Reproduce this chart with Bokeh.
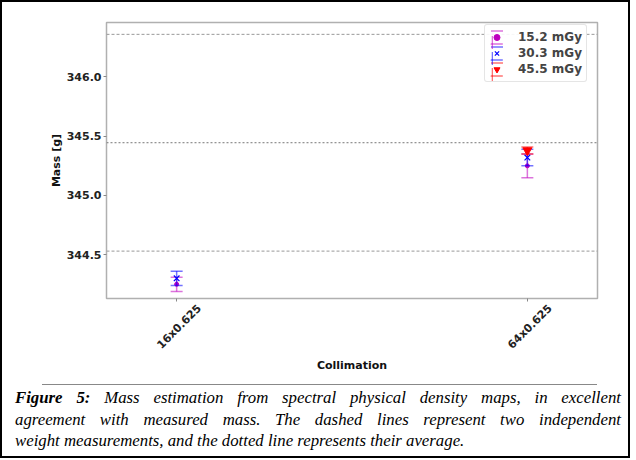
import numpy as np
from bokeh.plotting import figure
from bokeh.models import (Range1d, FixedTicker, Span, Legend, LegendItem, ColumnDataSource, Div,
                          PrintfTickFormatter, LinearAxis)
from bokeh.layouts import column
from bokeh.embed import file_html
from bokeh.resources import INLINE

# ---- data ----
categories = ["16x0.625", "64x0.625"]
doses = ["15.2 mGy", "30.3 mGy", "45.5 mGy"]
mass_152 = [344.25, 345.25]
err_152 = [0.06, 0.10]
mass_303 = [344.30, 345.32]
err_303 = [0.06, 0.07]
mass_455 = [np.nan, 345.38]
err_455 = [np.nan, 0.03]
weights = [346.36, 344.53]
yticks = [344.5, 345.0, 345.5, 346.0]
y_lo, y_hi = 344.13, 346.46

series = [
    (doses[0], mass_152, err_152, "#bf00bf", "dot", 9),
    (doses[1], mass_303, err_303, "#0000ff", "x", 8),
    (doses[2], mass_455, err_455, "#ff0000", "inverted_triangle", 9),
]

p = figure(width=616, height=373, x_range=Range1d(-0.2, 1.2), y_range=Range1d(y_lo, y_hi),
           output_backend="svg", toolbar_location=None,
           min_border_left=104, min_border_right=21, min_border_top=20, min_border_bottom=60)
p.xgrid.visible = False
p.ygrid.visible = False
p.outline_line_color = "#b0b0b0"
p.outline_line_width = 1.5
p.background_fill_color = "white"
p.border_fill_color = "white"


def style_axis(ax):
    ax.axis_line_color = "#b0b0b0"
    ax.major_tick_line_color = "#888888"
    ax.minor_tick_line_color = None
    ax.major_tick_out = 3
    ax.major_tick_in = 0
    ax.major_label_standoff = 2
    ax.major_label_text_font = "DejaVu Sans"
    ax.major_label_text_font_style = "bold"
    ax.major_label_text_font_size = "11px"
    ax.major_label_text_color = "#222222"
    ax.axis_label_text_font = "DejaVu Sans"
    ax.axis_label_text_font_style = "bold"
    ax.axis_label_text_font_size = "11px"
    ax.axis_label_text_color = "#111111"


style_axis(p.xaxis[0])
style_axis(p.yaxis[0])

xpos = list(range(len(categories)))
# tick marks at category positions (labels drawn by a second axis below)
p.xaxis.ticker = FixedTicker(ticks=xpos)
p.xaxis.major_label_overrides = {i: "" for i in xpos}
p.xaxis.major_label_text_font_size = "0px"
p.xaxis.major_label_standoff = 0

# label axis: rotated labels, shifted so their centres sit under the ticks
label_shift = 0.065
lab_ticks = [round(x + label_shift, 3) for x in xpos]
lab_axis = LinearAxis(ticker=FixedTicker(ticks=lab_ticks),
                      major_label_overrides={t: c for t, c in zip(lab_ticks, categories)})
style_axis(lab_axis)
lab_axis.axis_line_color = None
lab_axis.major_tick_line_color = None
lab_axis.major_tick_out = 0
lab_axis.major_label_standoff = 5
lab_axis.major_label_orientation = np.pi / 4
lab_axis.axis_label = "Collimation"
lab_axis.axis_label_standoff = 0
p.add_layout(lab_axis, "below")

p.yaxis.ticker = FixedTicker(ticks=yticks)
p.yaxis.formatter = PrintfTickFormatter(format="%.1f")
p.yaxis.axis_label = "Mass [g]"
p.yaxis.axis_label_standoff = 1

# measurement lines
for w in weights:
    p.add_layout(Span(location=w, dimension="width", line_color="#999999", line_dash="3 2", line_width=1))
p.add_layout(Span(location=float(np.mean(weights)), dimension="width", line_color="#777777", line_dash="2 2", line_width=1))

items_a, items_b = [], []
for label, m, e, col, mk, sz in series:
    m = np.array(m, dtype=float)
    e = np.array(e, dtype=float)
    src = ColumnDataSource(dict(x=xpos, y=m, lo=m - e, hi=m + e))
    p.segment(x0="x", y0="lo", x1="x", y1="hi", source=src, line_color=col, line_alpha=0.55, line_width=1.5)
    p.scatter(x="x", y="lo", source=src, marker="dash", size=12, line_color=col, line_alpha=0.55, line_width=1.5)
    p.scatter(x="x", y="hi", source=src, marker="dash", size=12, line_color=col, line_alpha=0.55, line_width=1.5)
    if mk == "dot":
        r = p.scatter(x="x", y="y", source=src, marker="circle", size=4, fill_color=col, line_color=col)
    elif mk == "x":
        r = p.scatter(x="x", y="y", source=src, marker="x", size=sz, line_color=col, line_width=1.2)
    else:
        r = p.scatter(x="x", y="y", source=src, marker=mk, size=sz, fill_color=col, line_color=col)
    # legend-only glyphs: caps (top/bottom edges of a dashed box) and a thin vertical bar
    caps = p.quad(left=[np.nan], right=[np.nan], top=[np.nan], bottom=[np.nan], fill_color=None,
                  line_color=col, line_alpha=0.55, line_width=1.5, line_dash="12 13")
    bar = p.quad(left=[np.nan], right=[np.nan], top=[np.nan], bottom=[np.nan], fill_color=col,
                 fill_alpha=0.55, line_color=None)
    items_a.append(LegendItem(label=label, renderers=[caps, r]))
    items_b.append(LegendItem(label=" ", renderers=[bar]))


def make_legend(items, gw, loc, visible_box):
    lg = Legend(items=items, location=loc)
    lg.label_text_font = "DejaVu Sans"
    lg.label_text_font_style = "bold"
    lg.label_text_font_size = "12px"
    lg.label_height = 16
    lg.glyph_height = 16
    lg.glyph_width = gw
    lg.spacing = 0
    lg.padding = 4
    lg.label_standoff = 14
    if visible_box:
        lg.border_line_color = "#cccccc"
        lg.border_line_width = 1
        lg.border_radius = 3
        lg.background_fill_alpha = 0.9
    else:
        lg.border_line_color = None
        lg.background_fill_alpha = 0
    return lg


p.add_layout(make_legend(items_a, 15, (378, 216), True))
p.add_layout(make_legend(items_b, 2, (384.5, 216), False))

line_css = ("font-family:'Liberation Serif',serif; font-style:italic; font-size:16.8px; "
            "line-height:21.5px; white-space:nowrap; width:606px; color:#000;")
caption_html = (
    '<div style="border-top:1px solid #888888; margin:4px 26px 0 35px; width:555px;"></div>'
    '<div style="padding:2px 0 0 8px;">'
    f'<div style="{line_css} text-align:justify; text-align-last:justify;"><b>Figure 5:</b> Mass estimation from spectral physical density maps, in excellent</div>'
    f'<div style="{line_css} text-align:justify; text-align-last:justify;">agreement with measured mass. The dashed lines represent two independent</div>'
    f'<div style="{line_css} text-align:left;">weight measurements, and the dotted line represents their average.</div>'
    '</div>'
)
cap = Div(text=caption_html, width=616, height=71)

layout = column(p, cap, spacing=0, styles={"border": "2px solid black", "background-color": "white"})

open("out.html", "w").write(file_html(layout, INLINE))
